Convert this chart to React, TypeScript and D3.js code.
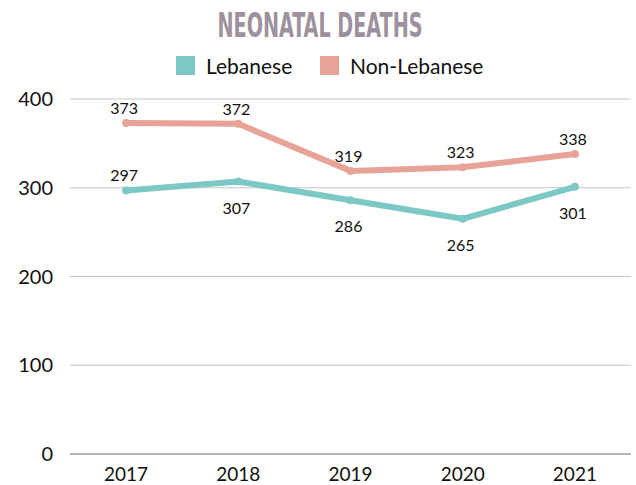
import { useEffect, useRef } from "react";
import * as d3 from "d3";

const years = ["2017", "2018", "2019", "2020", "2021"];
const lebanese = [297, 307, 286, 265, 301];
const nonLebanese = [373, 372, 319, 323, 338];
const yTicks = [0, 100, 200, 300, 400];
// true = value label under the point
const lebLabelBelow = [false, true, true, true, true];

const W = 636;
const H = 485;
const FONT = "Lato, 'Open Sans', sans-serif";

const App = () => {
  const ref = useRef<SVGSVGElement>(null);

  useEffect(() => {
    const svg = d3.select(ref.current);
    svg.selectAll("*").remove();

    const margin = { top: 99, right: 5, bottom: 31, left: 70 };

    const x = d3
      .scalePoint()
      .domain(years)
      .range([margin.left, W - margin.right])
      .padding(0.5);

    const y = d3
      .scaleLinear()
      .domain([0, 400])
      .range([H - margin.bottom, margin.top]);

    // title
    svg
      .append("text")
      .attr("x", 320)
      .attr("y", 37)
      .attr("text-anchor", "middle")
      .attr("fill", "#9d919e")
      .attr("font-family", "'Liberation Sans Narrow', 'DejaVu Sans Condensed', sans-serif")
      .attr("font-weight", "bold")
      .attr("font-size", 33)
      .attr("textLength", 205)
      .attr("lengthAdjust", "spacingAndGlyphs")
      .text("NEONATAL DEATHS");

    // legend
    const legend = [
      { name: "Lebanese", color: "#7bc8c5", x: 176 },
      { name: "Non-Lebanese", color: "#e8a398", x: 320 },
    ];
    const lg = svg.append("g");
    legend.forEach((l) => {
      lg.append("rect")
        .attr("x", l.x)
        .attr("y", 56)
        .attr("width", 19)
        .attr("height", 19)
        .attr("fill", l.color);
      lg.append("text")
        .attr("x", l.x + 30)
        .attr("y", 74)
        .attr("font-family", FONT)
        .attr("font-size", 21)
        .attr("fill", "#111")
        .text(l.name);
    });

    // grid
    const grid = svg.append("g");
    yTicks.forEach((t) => {
      grid
        .append("line")
        .attr("x1", margin.left)
        .attr("x2", W - margin.right)
        .attr("y1", y(t))
        .attr("y2", y(t))
        .attr("stroke", t === 0 ? "#666" : "#c4c4c4")
        .attr("stroke-width", 1);
      grid
        .append("text")
        .attr("x", 53)
        .attr("y", y(t) + 7)
        .attr("text-anchor", "end")
        .attr("font-family", FONT)
        .attr("font-size", 20)
        .attr("fill", "#111")
        .text(t);
    });

    // x labels
    svg
      .append("g")
      .selectAll("text")
      .data(years)
      .join("text")
      .attr("x", (d) => x(d)!)
      .attr("y", 481)
      .attr("text-anchor", "middle")
      .attr("font-family", FONT)
      .attr("font-size", 19)
      .attr("fill", "#111")
      .text((d) => d);

    const line = d3
      .line<number>()
      .x((_, i) => x(years[i])!)
      .y((d) => y(d));

    const series = [
      { values: nonLebanese, color: "#e8a398", below: years.map(() => false) },
      { values: lebanese, color: "#7bc8c5", below: lebLabelBelow },
    ];

    series.forEach((s) => {
      const g = svg.append("g");
      g.append("path")
        .attr("d", line(s.values))
        .attr("fill", "none")
        .attr("stroke", s.color)
        .attr("stroke-width", 6)
        .attr("stroke-linejoin", "round");
      g.selectAll("circle")
        .data(s.values)
        .join("circle")
        .attr("cx", (_, i) => x(years[i])!)
        .attr("cy", (d) => y(d))
        .attr("r", 4)
        .attr("fill", s.color);
      g.selectAll("text")
        .data(s.values)
        .join("text")
        .attr("x", (_, i) => x(years[i])! - 2)
        .attr("y", (d, i) => y(d) + (s.below[i] ? 32 : -9))
        .attr("text-anchor", "middle")
        .attr("font-family", FONT)
        .attr("font-size", 16)
        .attr("fill", "#111")
        .text((d) => d);
    });
  }, []);

  return (
    <div style={{ position: "fixed", left: 0, top: 0 }}>
      <svg ref={ref} width={W} height={H} style={{ display: "block", background: "#fff" }} />
    </div>
  );
};

export default App;
